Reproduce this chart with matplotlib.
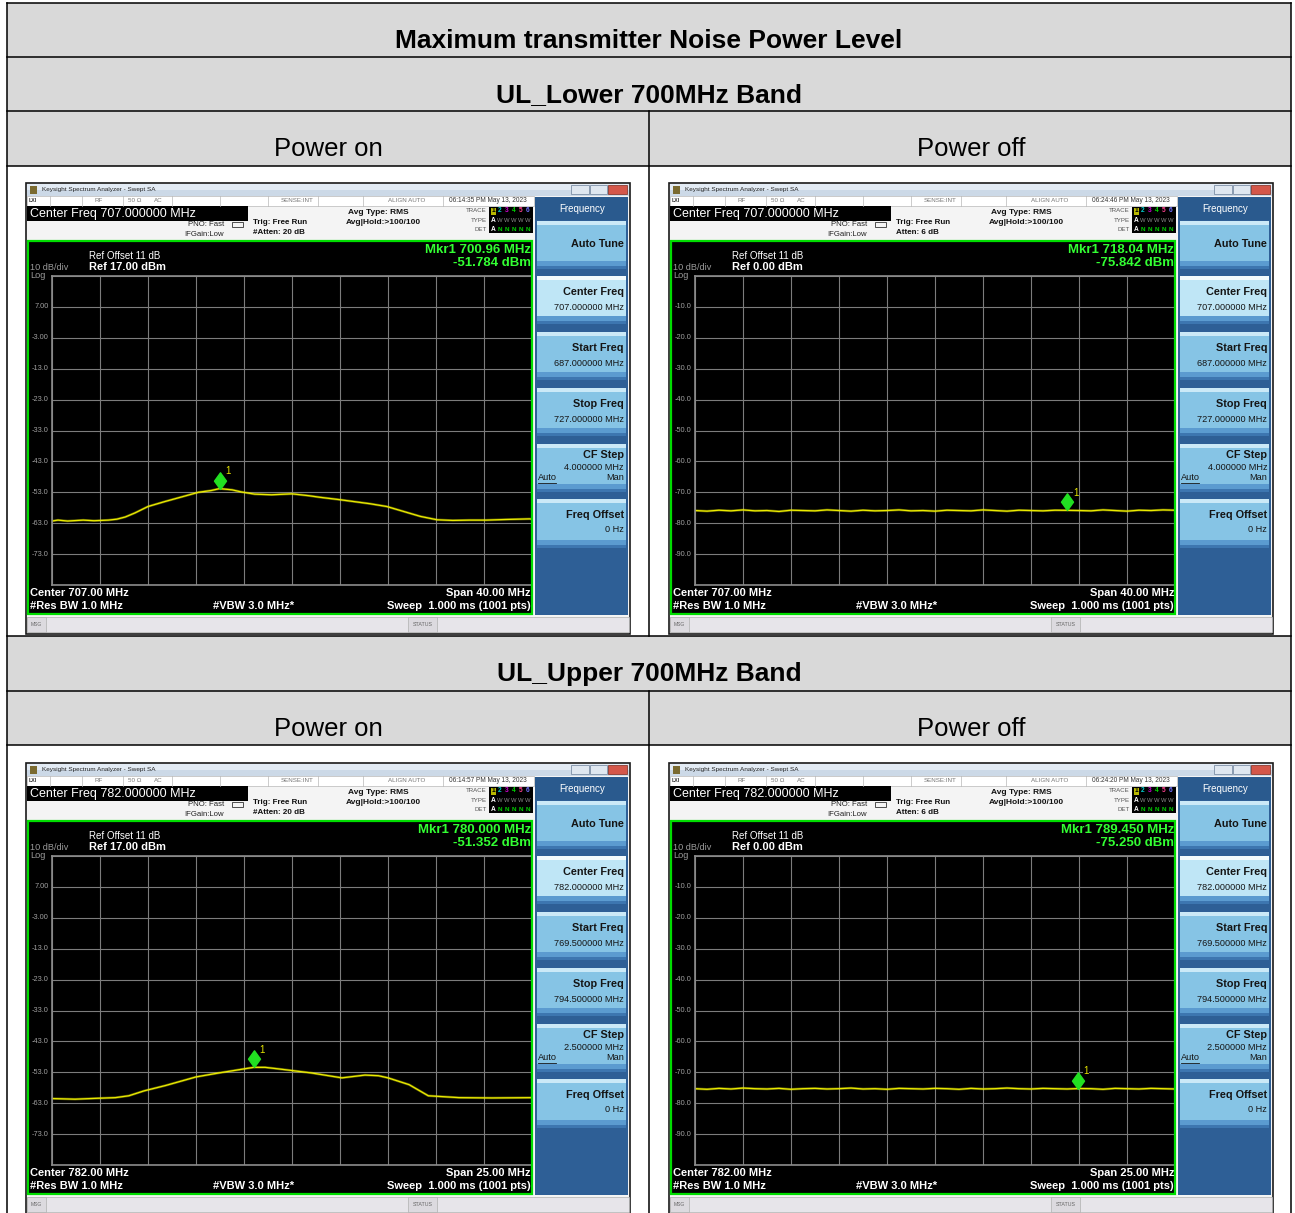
import numpy as np
import matplotlib
matplotlib.use("Agg")
import matplotlib.pyplot as plt
from matplotlib.patches import Rectangle
from matplotlib.path import Path

plt.rcParams['font.family'] = ['Liberation Sans', 'DejaVu Sans']

# ---------------- data ----------------
table_title = "Maximum transmitter Noise Power Level"
band_titles = ["UL_Lower 700MHz Band", "UL_Upper 700MHz Band"]
state_titles = ["Power on", "Power off"]

lower_on_freq = [687.0, 687.5, 688.3, 689.6, 690.5, 691.7, 692.4, 693.1, 693.9, 695.0,
                 696.4, 697.8, 699.2, 700.3, 700.96, 702.0, 702.8, 703.9, 705.3, 707.0,
                 708.4, 709.3, 711.0, 713.5, 714.9, 716.3, 717.7, 719.1, 720.4, 721.8,
                 723.2, 724.8, 726.8, 727.0]
lower_on_dbm = [-62.3, -62.0, -62.3, -62.0, -62.2, -62.0, -61.7, -61.0, -59.7, -57.6,
                -56.0, -54.5, -53.0, -52.4, -51.8, -52.2, -52.9, -53.6, -53.8, -53.5,
                -54.1, -54.6, -55.4, -56.7, -57.6, -59.2, -60.8, -61.9, -62.1, -62.0,
                -62.0, -61.8, -61.6, -61.7]

lower_off_freq = np.arange(687.0, 728.0, 1.0)
lower_off_dbm = [-75.9, -76.1, -75.8, -76.0, -75.7, -76.0, -75.9, -76.2, -75.8, -75.9,
                 -76.0, -75.7, -75.9, -76.1, -75.8, -76.0, -75.9, -75.7, -76.0, -75.9,
                 -76.1, -75.8, -75.9, -76.0, -75.7, -75.9, -76.1, -75.8, -75.9, -76.0,
                 -75.8, -75.84, -75.9, -76.0, -75.7, -75.9, -76.1, -75.8, -75.9, -75.7,
                 -75.8]

upper_on_freq = [769.5, 770.7, 771.9, 772.8, 773.5, 774.3, 775.4, 777.0, 778.2, 779.2,
                 780.0, 780.6, 781.3, 783.0, 784.6, 785.8, 786.5, 787.0, 788.1, 789.1,
                 790.7, 792.4, 794.5]
upper_on_dbm = [-61.5, -61.7, -61.4, -61.2, -60.6, -59.0, -57.3, -54.5, -53.2, -52.2,
                -51.4, -51.4, -51.9, -53.2, -54.8, -53.9, -54.1, -54.8, -57.0, -60.6,
                -61.2, -61.3, -61.2]

upper_off_freq = np.linspace(769.5, 794.5, 41)
upper_off_dbm = [-75.3, -75.5, -75.2, -75.4, -75.1, -75.3, -75.4, -75.2, -75.5, -75.3,
                 -75.2, -75.4, -75.3, -75.1, -75.4, -75.3, -75.5, -75.2, -75.3, -75.4,
                 -75.2, -75.3, -75.5, -75.2, -75.4, -75.3, -75.1, -75.3, -75.4, -75.2,
                 -75.3, -75.4, -75.25, -75.3, -75.5, -75.2, -75.3, -75.4, -75.2, -75.3,
                 -75.4]

marker_freq = [700.96, 718.04, 780.000, 789.450]
marker_dbm = [-51.784, -75.842, -51.352, -75.250]
marker_freq_txt = ["700.96", "718.04", "780.000", "789.450"]
marker_dbm_txt = ["-51.784", "-75.842", "-51.352", "-75.250"]

ylabels_ref17 = ["7.00", "-3.00", "-13.0", "-23.0", "-33.0", "-43.0", "-53.0", "-63.0", "-73.0"]
ylabels_ref0 = ["-10.0", "-20.0", "-30.0", "-40.0", "-50.0", "-60.0", "-70.0", "-80.0", "-90.0"]

# ---------------- figure ----------------
W, H = 1295, 1213
fig = plt.figure(figsize=(W / 100, H / 100), dpi=100)
bg = fig.add_axes([0, 0, 1, 1])
bg.set_xlim(0, W); bg.set_ylim(H, 0); bg.axis('off')
ov = fig.add_axes([0, 0, 1, 1], zorder=5)
ov.set_xlim(0, W); ov.set_ylim(H, 0); ov.axis('off'); ov.patch.set_alpha(0)


def rect(ax, x, y, w, h, fc, ec='none', lw=0):
    ax.add_patch(Rectangle((x, y), w, h, facecolor=fc, edgecolor=ec, linewidth=lw))


def txt(ax, x, y, s, size, color='black', ha='left', va='center', weight='normal', **kw):
    ax.text(x, y, s, fontsize=size, color=color, ha=ha, va=va, fontweight=weight, **kw)


# ---------------- table ----------------
gray = '#d9d9d9'
for (y0, y1) in [(3, 57), (57, 111), (111, 166), (636, 691), (691, 745)]:
    rect(bg, 7, y0, 1284, y1 - y0, gray)
lkw = dict(color='black', lw=1.1)
for y in [3, 57, 111, 166, 636, 691, 745]:
    bg.plot([7, 1291], [y, y], **lkw)
bg.plot([7, 7], [3, 1213], **lkw)
bg.plot([1291, 1291], [3, 1213], **lkw)
bg.plot([649, 649], [111, 636], **lkw)
bg.plot([649, 649], [691, 1213], **lkw)

txt(bg, 649, 48, table_title, 19, ha='center', va='baseline', weight='bold')
txt(bg, 649, 102, band_titles[0], 19, ha='center', va='baseline', weight='bold')
txt(bg, 649, 681, band_titles[1], 19, ha='center', va='baseline', weight='bold')
for yb in [156, 736]:
    txt(bg, 328, yb, state_titles[0], 18.5, ha='center', va='baseline')
    txt(bg, 971, yb, state_titles[1], 18.5, ha='center', va='baseline')

diamond = Path([(0, 0), (0.36, 0.5), (0, 1), (-0.36, 0.5), (0, 0)],
               [Path.MOVETO, Path.LINETO, Path.LINETO, Path.LINETO, Path.CLOSEPOLY])

screens = [
    dict(dx=0, dy=0, center='707.000000', start_t='687.000000', stop_t='727.000000', cf='4.000000',
         center_short='707.00', span='40.00', time='06:14:35 PM', atten='#Atten: 20 dB',
         ref=17.0, ref_t='17.00', start=687.0, stop=727.0, freq=lower_on_freq, dbm=lower_on_dbm,
         ylabels=ylabels_ref17, m=0),
    dict(dx=643, dy=0, center='707.000000', start_t='687.000000', stop_t='727.000000', cf='4.000000',
         center_short='707.00', span='40.00', time='06:24:46 PM', atten='Atten: 6 dB',
         ref=0.0, ref_t='0.00', start=687.0, stop=727.0, freq=lower_off_freq, dbm=lower_off_dbm,
         ylabels=ylabels_ref0, m=1),
    dict(dx=0, dy=580, center='782.000000', start_t='769.500000', stop_t='794.500000', cf='2.500000',
         center_short='782.00', span='25.00', time='06:14:57 PM', atten='#Atten: 20 dB',
         ref=17.0, ref_t='17.00', start=769.5, stop=794.5, freq=upper_on_freq, dbm=upper_on_dbm,
         ylabels=ylabels_ref17, m=2),
    dict(dx=643, dy=580, center='782.000000', start_t='769.500000', stop_t='794.500000', cf='2.500000',
         center_short='782.00', span='25.00', time='06:24:20 PM', atten='Atten: 6 dB',
         ref=0.0, ref_t='0.00', start=769.5, stop=794.5, freq=upper_off_freq, dbm=upper_off_dbm,
         ylabels=ylabels_ref0, m=3),
]


def draw_screen(s):
    dx, dy = s['dx'], s['dy']

    def R(x, y, w, h, fc, ec='none', lw=0, ax=bg):
        rect(ax, x + dx, y + dy, w, h, fc, ec, lw)

    def T(x, y, t, size, color='black', ha='left', va='center', weight='normal', **kw):
        txt(bg, x + dx, y + dy, t, size, color, ha, va, weight, **kw)

    def L(xs, ys, **kw):
        bg.plot([v + dx for v in xs], [v + dy for v in ys], **kw)

    # window
    R(26, 183, 604, 451, '#f4f4f4', '#1a1a1a', 1.2)
    R(27, 184, 602, 6, '#e3ebf4'); R(27, 190, 602, 6, '#ccd9e7')
    R(30, 186, 7, 8, '#7a6a30')
    T(42, 190, 'Keysight Spectrum Analyzer - Swept SA', 4.6, '#222222')
    R(571, 185, 18, 9, '#dfe7f0', '#7d8fa6', 0.6)
    R(590, 185, 17, 9, '#dfe7f0', '#7d8fa6', 0.6)
    R(608, 185, 19, 9, '#d4574a', '#8a3a30', 0.6)

    # status row
    R(27, 196, 507, 10, 'white', '#b8b8b8', 0.5)
    for xd in [50, 82, 123, 172, 220, 268, 318, 363, 443]:
        L([xd, xd], [196, 206], color='#b8b8b8', lw=0.5)
    T(29, 201, 'LXI', 3.8, '#333333', weight='bold')
    T(99, 201, 'RF', 4.5, '#777777', ha='center')
    T(135, 201, '50 Ω', 4.5, '#777777', ha='center')
    T(158, 201, 'AC', 4.5, '#777777', ha='center')
    T(297, 201, 'SENSE:INT', 4.5, '#777777', ha='center')
    T(407, 201, 'ALIGN AUTO', 4.5, '#777777', ha='center')
    T(488, 201, s['time'] + ' May 13, 2023', 4.7, '#333333', ha='center')

    # center freq box
    R(27, 206, 221, 15, 'black')
    T(30, 213.5, 'Center Freq ' + s['center'] + ' MHz', 9, 'white')

    # settings
    T(224, 225, 'PNO: Fast', 5.6, '#222222', ha='right')
    T(224, 234, 'IFGain:Low', 5.6, '#222222', ha='right')
    R(232, 222, 11, 5, 'none', '#333333', 0.6)
    T(253, 223, 'Trig: Free Run', 5.8, '#111111', weight='bold')
    T(253, 233, s['atten'], 5.8, '#111111', weight='bold')
    T(348, 212.5, 'Avg Type: RMS', 6, '#111111', weight='bold')
    T(346, 222.5, 'Avg|Hold:>100/100', 6, '#111111', weight='bold')
    T(487, 211, 'TRACE', 4.4, '#555555', ha='right')
    T(487, 220.5, 'TYPE', 4.4, '#555555', ha='right')
    T(487, 229.5, 'DET', 4.4, '#555555', ha='right')
    R(489, 207, 44, 26, 'black')
    R(490.5, 207.5, 5, 7.5, '#b8b800')
    T(493, 211, '1', 4.8, 'black', ha='center', weight='bold')
    for i, (d, c) in enumerate(zip('23456', ['#00d0d0', '#d000d0', '#00d000', '#ff4090', '#7070ff'])):
        T(500 + i * 7, 211, d, 4.8, c, ha='center', weight='bold')
    T(493, 220.5, 'A', 4.8, 'white', ha='center', weight='bold')
    T(493, 229.5, 'A', 4.8, 'white', ha='center', weight='bold')
    for i in range(5):
        T(500 + i * 7, 220.5, 'W', 4.2, '#8a8a8a', ha='center')
        T(500 + i * 7, 229.5, 'N', 4.6, '#00cc00', ha='center', weight='bold')

    # plot frame
    R(28, 241, 504, 373, 'black')
    R(28, 241, 504, 373, 'none', '#00dd00', 1.6, ax=ov)
    T(89, 256, 'Ref Offset 11 dB', 7, 'white')
    T(89, 267, 'Ref ' + s['ref_t'] + ' dBm', 8, 'white', weight='bold')
    T(30, 268, '10 dB/div', 6.6, '#9a9a9a')
    T(30, 275.5, 'Log', 6.6, '#9a9a9a')
    m = s['m']
    T(531, 250, 'Mkr1 ' + marker_freq_txt[m] + ' MHz', 9.5, '#33ff33', ha='right', weight='bold')
    T(531, 263, marker_dbm_txt[m] + ' dBm', 9.5, '#33ff33', ha='right', weight='bold')
    T(30, 593.5, 'Center ' + s['center_short'] + ' MHz', 8, 'white', weight='bold')
    T(30, 606, '#Res BW 1.0 MHz', 8, 'white', weight='bold')
    T(213, 606, '#VBW 3.0 MHz*', 8, 'white', weight='bold')
    T(531, 593.5, 'Span ' + s['span'] + ' MHz', 8, 'white', ha='right', weight='bold')
    T(531, 606, 'Sweep  1.000 ms (1001 pts)', 8, 'white', ha='right', weight='bold')

    # msg bar
    R(27, 617, 602, 15, '#e7e5ea', '#b0b0b0', 0.5)
    R(27, 617, 19, 15, '#dcdadf', '#b0b0b0', 0.5)
    T(36.5, 624.5, 'MSG', 3.6, '#666666', ha='center')
    R(408, 617, 29, 15, '#dcdadf', '#b0b0b0', 0.5)
    T(422.5, 624.5, 'STATUS', 3.8, '#666666', ha='center')

    # softkeys
    R(535, 197, 93, 418, '#2e5f96')
    R(535, 197, 93, 23, '#2a5a8e')
    T(582, 209, 'Frequency', 7, 'white', ha='center')
    buttons = [(221, 266), (276, 321), (332, 377), (388, 433), (444, 489), (499, 545)]
    for i, (y0, y1) in enumerate(buttons):
        sel = (i == 1)
        R(537, y0, 89, y1 - y0, '#bfe6f6' if sel else '#86c4e5')
        R(537, y0, 89, 4, '#f2fbfe' if sel else '#cbe9f7')
        R(537, y1 - 5, 89, 5, '#5b9bd0')
        R(537, y1, 89, 3, '#3d76b0')
    kc = '#151515'
    T(624, 244, 'Auto Tune', 7.8, kc, ha='right', weight='bold')
    T(624, 292, 'Center Freq', 7.8, kc, ha='right', weight='bold')
    T(624, 308, s['center'] + ' MHz', 6.6, kc, ha='right')
    T(624, 348, 'Start Freq', 7.8, kc, ha='right', weight='bold')
    T(624, 364, s['start_t'] + ' MHz', 6.6, kc, ha='right')
    T(624, 404, 'Stop Freq', 7.8, kc, ha='right', weight='bold')
    T(624, 419, s['stop_t'] + ' MHz', 6.6, kc, ha='right')
    T(624, 455, 'CF Step', 7.8, kc, ha='right', weight='bold')
    T(624, 467, s['cf'] + ' MHz', 6.6, kc, ha='right')
    T(538, 478, 'Auto', 6.6, kc)
    L([538, 556], [482.5, 482.5], color=kc, lw=0.6)
    T(624, 478, 'Man', 6.6, kc, ha='right')
    T(624, 515, 'Freq Offset', 7.8, kc, ha='right', weight='bold')
    T(624, 530, '0 Hz', 6.6, kc, ha='right')

    # spectrum axes
    ax = fig.add_axes([(52 + dx) / W, 1 - (585 + dy) / H, 480 / W, 309 / H])
    ax.set_facecolor('black')
    ax.set_xlim(s['start'], s['stop'])
    ax.set_ylim(s['ref'] - 100, s['ref'])
    ax.set_xticks(np.linspace(s['start'], s['stop'], 11))
    yv = s['ref'] - 10 * np.arange(11)
    ax.set_yticks(yv)
    ax.grid(True, color='#7c7c7c', lw=0.8)
    ax.tick_params(length=0, labelbottom=False, labelleft=False)
    for sp in ax.spines.values():
        sp.set_color('#8c8c8c'); sp.set_linewidth(1.2)
    for v, lab in zip(yv[1:10], s['ylabels']):
        ax.text(-0.0073, v, lab, transform=ax.get_yaxis_transform(), ha='right', va='center',
                fontsize=5.3, color='#a0a0a0', clip_on=False)
    ax.plot(s['freq'], s['dbm'], color='#e4e400', lw=1.8, alpha=0.4)
    ax.plot(s['freq'], s['dbm'], color='#ecec00', lw=0.9)
    mf, mp = marker_freq[m], marker_dbm[m]
    ax.plot([mf], [mp], marker=diamond, ms=24, color='#22e022', ls='none', clip_on=False, zorder=5)
    ax.annotate('1', (mf, mp), xytext=(6, 12.5), textcoords='offset points', color='#e4e400',
                fontsize=7, ha='center', va='center',
                bbox=dict(fc='black', ec='none', pad=0.3))


for s in screens:
    draw_screen(s)

fig.savefig('out.png', dpi=100)
